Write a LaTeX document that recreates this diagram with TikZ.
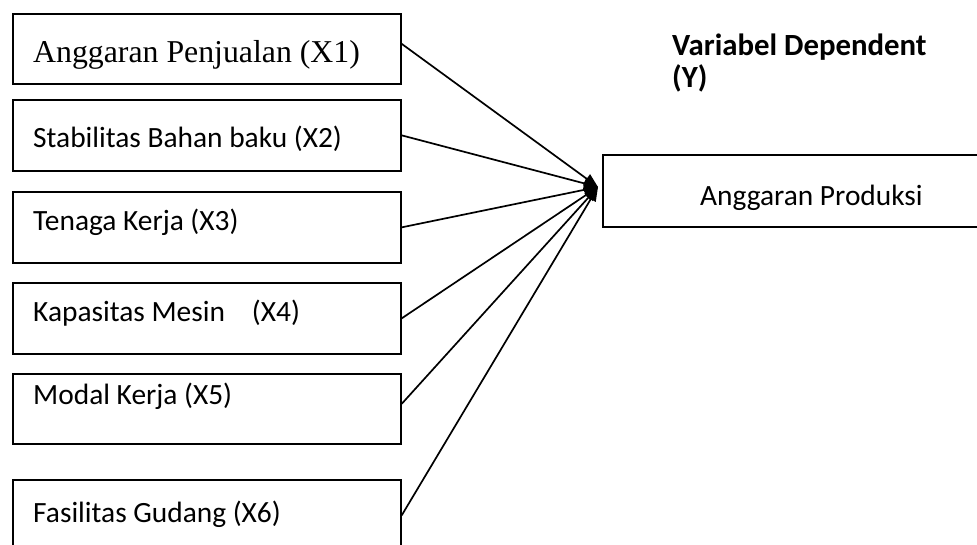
\documentclass[tikz,border=0pt]{standalone}
\usepackage{fontspec}
\setmainfont{Carlito}
\newfontfamily\timesfont{Liberation Serif}
\usetikzlibrary{arrows.meta}
\begin{document}
\begin{tikzpicture}[x=1pt,y=-1pt,
  box/.style={draw, line width=1.7pt, minimum width=388pt, minimum height=71pt,
    inner sep=0pt, anchor=north west},
  lbl/.style={anchor=base west, inner sep=0pt, font=\fontsize{29.4}{35}\selectfont},
  head/.style={lbl, font=\bfseries\fontsize{30.8}{37}\selectfont},
  link/.style={line width=1.7pt, -{Triangle[length=14pt,width=11pt]}}]
\useasboundingbox (0,0) rectangle (977,544);

% independent variables
\node[box, minimum height=70pt] (b1) at (12,13) {};
\node[box] (b2) at (12,99) {};
\node[box] (b3) at (12,191) {};
\node[box] (b4) at (12,282) {};
\node[box, minimum height=70pt] (b5) at (12,373) {};
\node[box] (b6) at (12,479) {};

\node[lbl, font=\timesfont\fontsize{31.8}{38}\selectfont] (t1) at (33,62) {Anggaran Penjualan (X1)};
\node[lbl] (t2) at (33,147) {Stabilitas Bahan baku (X2)};
\node[lbl] (t3) at (33,230) {Tenaga Kerja (X3)};
\node[lbl] (t4) at (33,321) {Kapasitas Mesin\hspace{27pt}(X4)};
\node[lbl] (t5) at (33,404) {Modal Kerja (X5)};
\node[lbl] (t6) at (33,522) {Fasilitas Gudang (X6)};

% dependent variable
\node[box, minimum height=72pt] (y) at (602,154) {};
\node[lbl] (ty) at (700,205) {Anggaran Produksi};
\node[head] (h1) at (672,55) {Variabel Dependent};
\node[head] (h2) at (672,87) {(Y)};

% all arrows meet just left of the dependent box
\coordinate (tip) at (598,187);
\draw[link] ([yshift=5pt]b1.east) -- (tip);
\draw[link] (b2.east) -- (tip);
\draw[link] (b3.east) -- (tip);
\draw[link] (b4.east) -- (tip);
\draw[link] ([yshift=5pt]b5.east) -- (tip);
\draw[link] (b6.east) -- (tip);
\end{tikzpicture}
\end{document}
